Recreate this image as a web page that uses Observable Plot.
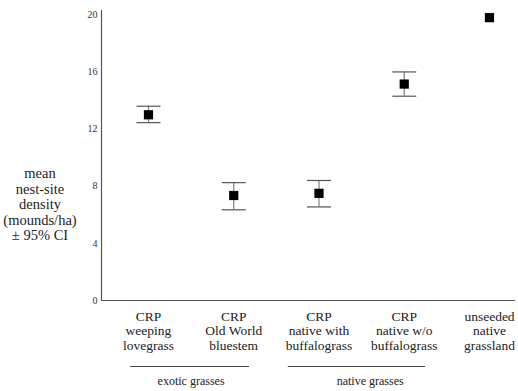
<!DOCTYPE html>
<html>
<head>
<meta charset="utf-8">
<script src="https://cdn.jsdelivr.net/npm/d3@7"></script>
<script src="https://cdn.jsdelivr.net/npm/@observablehq/plot@0.6"></script>
<style>
  html, body { margin: 0; padding: 0; background: #fff; }
  #chart { width: 518px; height: 391px; }
</style>
</head>
<body>
<div id="chart"></div>
<script>
// Categories (multi-line labels)
const categories = [
  "CRP\nweeping\nlovegrass",
  "CRP\nOld World\nbluestem",
  "CRP\nnative with\nbuffalograss",
  "CRP\nnative w/o\nbuffalograss",
  "unseeded\nnative\ngrassland"
];
// Mean nest-site density (mounds/ha) and 95% CI bounds
const means = [13.0, 7.35, 7.5, 15.15, 19.8];
const ciLow = [12.45, 6.35, 6.55, 14.3, null];
const ciHigh = [13.6, 8.25, 8.4, 16.0, null];
// Y tick labels
const yTicks = [0, 4, 8, 12, 16, 20];
// Category groups (span in category index units)
const groupNames = ["exotic grasses", "native grasses"];
const groupStart = [-0.21, 1.64];
const groupEnd = [1.185, 3.25];
const groupCenter = [0.5, 2.6];

const yTitle = "mean\nnest-site\ndensity\n(mounds/ha)\n\u00b1 95% CI";

const data = categories.map((c, i) => ({i, cat: c, mean: means[i], lo: ciLow[i], hi: ciHigh[i]}));
const ci = data.filter(d => d.lo != null);
const groups = groupNames.map((g, k) => ({name: g, x1: groupStart[k], x2: groupEnd[k], xc: groupCenter[k]}));

const capSymbol = {
  draw(context, size) {
    context.moveTo(-12, 0);
    context.lineTo(12, 0);
  }
};

const serif = "'Liberation Serif', 'Times New Roman', serif";

const chart = Plot.plot({
  width: 518,
  height: 391,
  marginLeft: 101,
  marginRight: 3,
  marginTop: 10,
  marginBottom: 91,
  style: {fontFamily: serif, background: "#fff", color: "#222"},
  x: {type: "linear", domain: [-0.551, 4.305], axis: null},
  y: {domain: [0, 20.3], axis: null},
  marks: [
    Plot.axisY(yTicks, {tickSize: 0, tickPadding: 4, fontSize: 10, label: null, fill: "#333"}),
    Plot.ruleX([0], {x: () => -0.551, y1: 0, y2: 20.3, stroke: "#555", strokeWidth: 1.2}),
    Plot.ruleY([0], {stroke: "#555", strokeWidth: 1.2}),
    Plot.axisX([0, 1, 2, 3, 4], {
      anchor: "bottom", tickSize: 0, tickPadding: 10, fontSize: 13.5, lineHeight: 1.08,
      tickFormat: i => categories[i], label: null, fill: "#222"
    }),
    Plot.ruleX(ci, {x: "i", y1: "lo", y2: "hi", stroke: "#888", strokeWidth: 1.3}),
    Plot.dot(ci, {x: "i", y: "lo", symbol: capSymbol, stroke: "#555", strokeWidth: 1.2, fill: "none", r: 1}),
    Plot.dot(ci, {x: "i", y: "hi", symbol: capSymbol, stroke: "#555", strokeWidth: 1.2, fill: "none", r: 1}),
    Plot.dot(data, {x: "i", y: "mean", symbol: "square", fill: "#000", r: 5.2}),
    Plot.ruleY(groups, {x1: "x1", x2: "x2", y: () => 0, dy: 66, stroke: "#444", strokeWidth: 1}),
    Plot.text(groups, {x: "xc", text: "name", frameAnchor: "bottom", dy: 84, fontSize: 12, fill: "#222"}),
    Plot.text([yTitle], {frameAnchor: "left", dx: -61.5, dy: 49, textAnchor: "middle", fontSize: 14.5, lineHeight: 1.07, fill: "#222"})
  ]
});
document.getElementById("chart").appendChild(chart);
</script>
</body>
</html>
